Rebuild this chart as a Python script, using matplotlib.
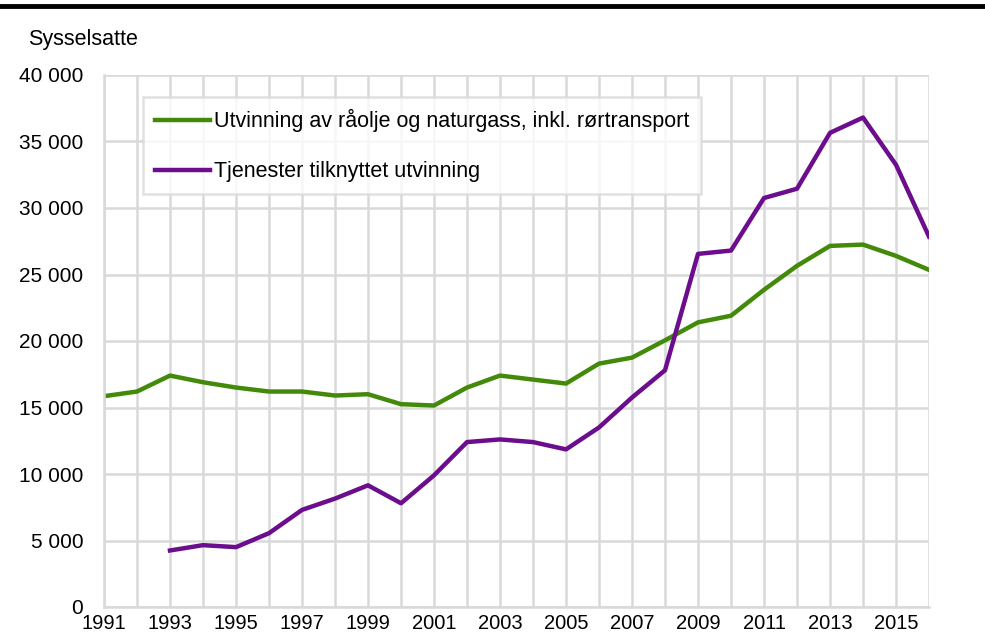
import matplotlib.pyplot as plt
from matplotlib.ticker import FuncFormatter

plt.rcParams['font.family'] = ['Liberation Sans', 'DejaVu Sans']

years = list(range(1991, 2017))
utvinning = [15850, 16200, 17400, 16900, 16500, 16200, 16200, 15900, 16000, 15250,
             15150, 16500, 17400, 17100, 16800, 18300, 18750, 20050, 21400, 21900,
             23850, 25650, 27150, 27250, 26400, 25350]
tjenester_years = list(range(1993, 2017))
tjenester = [4250, 4650, 4500, 5550, 7300, 8150, 9150, 7800, 9900, 12400,
             12600, 12400, 11850, 13500, 15750, 17800, 26550, 26800, 30750, 31450,
             35650, 36800, 33250, 27850]

green = '#438a0a'
purple = '#6b0d8c'
grid_col = '#d9d9d9'

fig = plt.figure(figsize=(9.85, 6.41), dpi=100)
ax = fig.add_axes([104 / 985, 1 - 607 / 641, (929 - 104) / 985, (607 - 75) / 641])

ax.plot(years, utvinning, color=green, lw=3.2, label='Utvinning av råolje og naturgass, inkl. rørtransport')
ax.plot(tjenester_years, tjenester, color=purple, lw=3.2, label='Tjenester tilknyttet utvinning')

ax.set_xlim(1991, 2016)
ax.set_ylim(0, 40000)
ax.set_xticks(range(1991, 2017), minor=True)
ax.set_xticks(range(1991, 2016, 2))
ax.set_yticks(range(0, 40001, 5000))
ax.yaxis.set_major_formatter(FuncFormatter(lambda v, p: f'{int(v):,}'.replace(',', ' ')))
ax.grid(True, which='both', color=grid_col, lw=1.8)
ax.set_axisbelow(True)
ax.tick_params(which='both', length=0)
ax.tick_params(axis='x', pad=5, labelsize=14.5)
ax.tick_params(axis='y', pad=15, labelsize=15)
for s in ['top', 'right']:
    ax.spines[s].set_visible(False)
for s in ['left', 'bottom']:
    ax.spines[s].set_color(grid_col)
    ax.spines[s].set_linewidth(1.8)

leg = ax.legend(loc='upper left', bbox_to_anchor=(0.047, 0.958), fontsize=15.5, frameon=True,
                fancybox=False, edgecolor=grid_col, handlelength=2.55, handletextpad=0.2,
                labelspacing=1.35, borderpad=0.55, borderaxespad=0)
leg.get_frame().set_linewidth(1.8)

fig.text(28 / 985, 1 - 40 / 641, 'Sysselsatte', fontsize=15.5, va='center', ha='left')
fig.add_artist(plt.Line2D([0, 1], [1 - 6 / 641, 1 - 6 / 641], color='black', lw=3.5))

fig.savefig('out.png', dpi=100)
